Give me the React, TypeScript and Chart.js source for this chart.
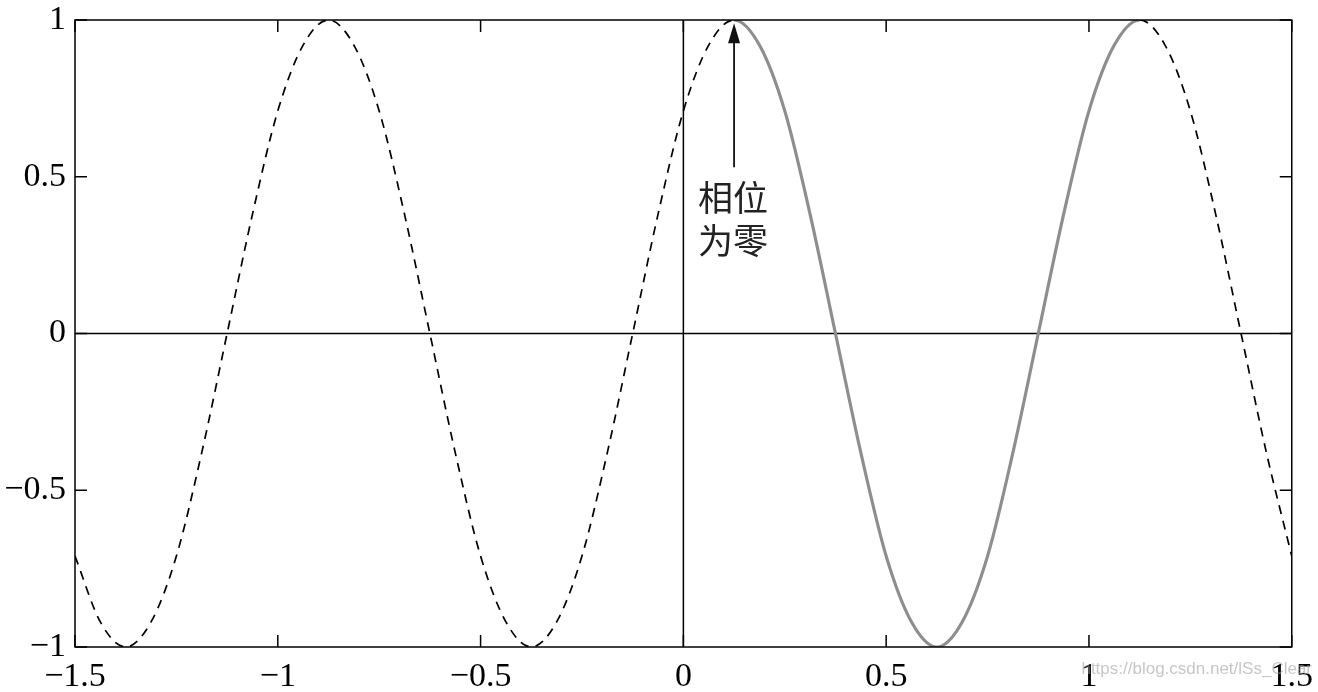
import React, {useEffect, useRef} from 'react';
import {Chart, registerables} from 'chart.js';

Chart.register(...registerables);

const xValues = [
  -1.5, -1.4375, -1.375, -1.3125, -1.25, -1.1875, -1.125, -1.0625, -1, -0.9375,
  -0.875, -0.8125, -0.75, -0.6875, -0.625, -0.5625, -0.5, -0.4375, -0.375, -0.3125,
  -0.25, -0.1875, -0.125, -0.0625, 0, 0.0625, 0.125, 0.1875, 0.25, 0.3125,
  0.375, 0.4375, 0.5, 0.5625, 0.625, 0.6875, 0.75, 0.8125, 0.875, 0.9375,
  1, 1.0625, 1.125, 1.1875, 1.25, 1.3125, 1.375, 1.4375, 1.5,
];
const yValues = [
  -0.71, -0.92, -1, -0.92, -0.71, -0.38, 0, 0.38, 0.71, 0.92,
  1, 0.92, 0.71, 0.38, 0, -0.38, -0.71, -0.92, -1, -0.92,
  -0.71, -0.38, 0, 0.38, 0.71, 0.92, 1, 0.92, 0.71, 0.38,
  0, -0.38, -0.71, -0.92, -1, -0.92, -0.71, -0.38, 0, 0.38,
  0.71, 0.92, 1, 0.92, 0.71, 0.38, 0, -0.38, -0.71,
];

// one period drawn solid
const solidFrom = 0.125;
const solidTo = 1.125;

const xTicks = [-1.5, -1, -0.5, 0, 0.5, 1, 1.5];
const yTicks = [-1, -0.5, 0, 0.5, 1];

// annotation
const arrowX = 0.125;
const arrowFromY = 0.53;
const arrowToY = 0.99;
const noteLines = ['相位', '为零'];
const noteY = [0.433, 0.296];

const watermark = 'https://blog.csdn.net/lSs_Clear';

const fmt = (v: number) => String(v).replace('-', '\u2212');

const framePlugin = {
  id: 'frame',
  beforeDatasetsDraw(chart: any) {
    const {ctx, chartArea: a, scales: {x, y}} = chart;
    ctx.save();
    ctx.strokeStyle = '#000';
    ctx.lineWidth = 1.5;
    const x0 = x.getPixelForValue(0);
    const y0 = y.getPixelForValue(0);
    ctx.beginPath();
    ctx.moveTo(x0, a.top);
    ctx.lineTo(x0, a.bottom);
    ctx.moveTo(a.left, y0);
    ctx.lineTo(a.right, y0);
    ctx.stroke();
    ctx.restore();
  },
  afterDatasetsDraw(chart: any) {
    const {ctx, scales: {x, y}} = chart;
    const px = x.getPixelForValue(arrowX);
    const pFrom = y.getPixelForValue(arrowFromY);
    const pTo = y.getPixelForValue(arrowToY);
    ctx.save();
    ctx.strokeStyle = '#111';
    ctx.fillStyle = '#111';
    ctx.lineWidth = 1.8;
    ctx.beginPath();
    ctx.moveTo(px, pFrom);
    ctx.lineTo(px, pTo + 14);
    ctx.stroke();
    ctx.beginPath();
    ctx.moveTo(px, pTo);
    ctx.lineTo(px - 6, pTo + 20);
    ctx.lineTo(px + 6, pTo + 20);
    ctx.closePath();
    ctx.fill();
    ctx.font = '35px "Noto Sans CJK SC"';
    ctx.fillStyle = '#222';
    ctx.textAlign = 'center';
    ctx.textBaseline = 'middle';
    noteLines.forEach((t, i) => ctx.fillText(t, px - 1, y.getPixelForValue(noteY[i])));
    ctx.restore();
  },
  afterDraw(chart: any) {
    const {ctx, chartArea: a, scales: {x, y}} = chart;
    const len = 12;
    ctx.save();
    ctx.strokeStyle = '#000';
    ctx.lineWidth = 1.5;
    ctx.strokeRect(a.left, a.top, a.right - a.left, a.bottom - a.top);
    ctx.beginPath();
    xTicks.forEach(v => {
      const p = x.getPixelForValue(v);
      ctx.moveTo(p, a.bottom);
      ctx.lineTo(p, a.bottom - len);
      ctx.moveTo(p, a.top);
      ctx.lineTo(p, a.top + len);
    });
    yTicks.forEach(v => {
      const p = y.getPixelForValue(v);
      ctx.moveTo(a.left, p);
      ctx.lineTo(a.left + len, p);
      ctx.moveTo(a.right, p);
      ctx.lineTo(a.right - len, p);
    });
    ctx.stroke();
    ctx.font = '17px "Liberation Sans"';
    ctx.fillStyle = 'rgba(160,160,160,0.6)';
    ctx.textAlign = 'right';
    ctx.textBaseline = 'middle';
    ctx.fillText(watermark, chart.width - 6, 669);
    ctx.restore();
  },
};

function App() {
  const canvasRef = useRef<HTMLCanvasElement>(null);

  useEffect(() => {
    if (!canvasRef.current) return;
    const points = xValues.map((x, i) => ({x, y: yValues[i]}));
    const inSolid = (c: any) => c.p0.parsed.x >= solidFrom && c.p1.parsed.x <= solidTo;
    const family = '"Liberation Serif", "Times New Roman", serif';

    const chart = new Chart(canvasRef.current, {
      type: 'line',
      data: {
        datasets: [
          {
            data: points,
            borderColor: '#000',
            borderWidth: 1.7,
            borderDash: [9, 7],
            pointRadius: 0,
            cubicInterpolationMode: 'monotone',
            segment: {borderColor: (c: any) => (inSolid(c) ? 'rgba(0,0,0,0)' : undefined)},
          },
          {
            data: points,
            borderColor: '#8e8e8e',
            borderWidth: 3.2,
            pointRadius: 0,
            cubicInterpolationMode: 'monotone',
            segment: {borderColor: (c: any) => (inSolid(c) ? undefined : 'rgba(0,0,0,0)')},
          },
        ],
      },
      options: {
        animation: false,
        responsive: false,
        layout: {padding: {left: 0, right: 26, top: 20, bottom: 0}},
        plugins: {legend: {display: false}, tooltip: {enabled: false}},
        scales: {
          x: {
            type: 'linear',
            min: -1.5,
            max: 1.5,
            afterFit: (s: any) => { s.height = 45; },
            afterBuildTicks: (s: any) => { s.ticks = xTicks.map(value => ({value})); },
            grid: {display: false, drawTicks: false},
            border: {display: false},
            ticks: {
              font: {family, size: 34, lineHeight: 1.5},
              color: '#000',
              padding: 5,
              maxRotation: 0,
              autoSkip: false,
              callback: (v: any) => fmt(Number(v)),
            },
          },
          y: {
            type: 'linear',
            min: -1,
            max: 1,
            afterFit: (s: any) => { s.width = 75; },
            afterBuildTicks: (s: any) => { s.ticks = yTicks.map(value => ({value})); },
            grid: {display: false, drawTicks: false},
            border: {display: false},
            ticks: {
              font: {family, size: 34, lineHeight: 0.6},
              color: '#000',
              padding: 9,
              autoSkip: false,
              callback: (v: any) => fmt(Number(v)),
            },
          },
        },
      },
      plugins: [framePlugin],
    } as any);

    return () => {
      chart.destroy();
    };
  }, []);

  return (
    <div style={{position: 'fixed', left: 0, top: 0, width: 1318, height: 692, background: '#fff'}}>
      <canvas ref={canvasRef} width={1318} height={692}/>
    </div>
  );
}

export default App;
